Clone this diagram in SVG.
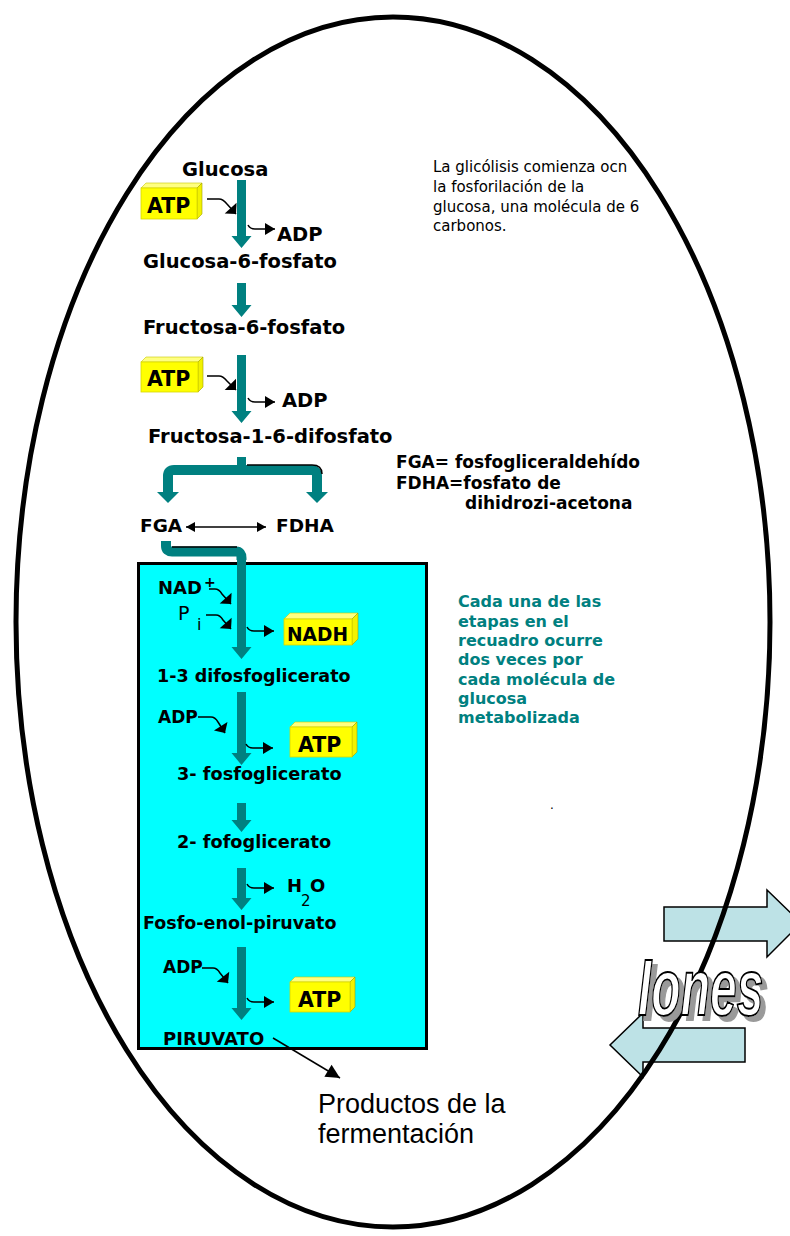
<svg xmlns="http://www.w3.org/2000/svg" width="790" height="1236" viewBox="0 0 790 1236">
  <style>
    .lbl { font-family: "DejaVu Sans", "Liberation Sans", sans-serif; font-weight: bold; fill: #000; }
    .reg { font-family: "DejaVu Sans", "Liberation Sans", sans-serif; fill: #000; }
    .note { font-family: "DejaVu Sans", "Liberation Sans", sans-serif; font-weight: bold; fill: #008080; font-size: 16px; }
    .shaft { fill: #008080; }
    .pipe { fill: none; stroke: #008080; stroke-width: 10; }
    .hook { fill: none; stroke: #000; stroke-width: 1.5; }
    .edge { fill: none; stroke: #000; stroke-width: 1.5; }
    .front { fill: #ffff00; stroke: #d8d800; stroke-width: 0.8; }
    .top { fill: #ffff80; stroke: #c8c800; stroke-width: 0.6; }
    .side { fill: #f2f200; stroke: #a0a000; stroke-width: 0.6; }
    .ion { fill: #bde2e6; stroke: #000; stroke-width: 1.5; }
  </style>
  <defs>
    <!-- right-angled head for the incoming co-substrate hooks -->
    <marker id="hin" viewBox="-9 -9 10 18" refX="0" refY="0" markerWidth="10" markerHeight="18" markerUnits="userSpaceOnUse" orient="auto">
      <path d="M0,0 L-8,-8 L-8,8 Z" fill="#000"/>
    </marker>
    <!-- head for the outgoing product hooks -->
    <marker id="hout" viewBox="-11 -7 12 14" refX="0" refY="0" markerWidth="12" markerHeight="14" markerUnits="userSpaceOnUse" orient="auto">
      <path d="M0,0 L-10,-6 L-10,6 Z" fill="#000"/>
    </marker>
    <marker id="dbl" viewBox="-10 -6 11 12" refX="0" refY="0" markerWidth="11" markerHeight="12" markerUnits="userSpaceOnUse" orient="auto-start-reverse">
      <path d="M0,0 L-9,-5 L-9,5 Z" fill="#000"/>
    </marker>
    <marker id="big" viewBox="-15 -8 16 16" refX="0" refY="0" markerWidth="16" markerHeight="16" markerUnits="userSpaceOnUse" orient="auto">
      <path d="M0,0 L-14,-7 L-14,7 Z" fill="#000"/>
    </marker>
    <!-- grey drop shadow for the outlined word -->
    <filter id="sombra" x="-10%" y="-10%" width="130%" height="130%">
      <feFlood flood-color="#9a9a9a"/>
      <feComposite in2="SourceAlpha" operator="in"/>
      <feOffset dx="5" dy="5" result="s"/>
      <feMerge><feMergeNode in="s"/><feMergeNode in="SourceGraphic"/></feMerge>
    </filter>
  </defs>

  <rect x="0" y="0" width="790" height="1236" fill="#fff"/>

  <!-- recuadro: steps that occur twice per glucose -->
  <rect id="recuadro" x="138.5" y="563.5" width="288" height="485" fill="#00ffff" stroke="#000" stroke-width="3"/>

  <!-- connectors: teal pathway arrows and black hooks -->
  <g id="connectors">
    <polygon class="shaft" points="237,180 246,180 246,236 251.5,236 241.5,248 231.5,236 237,236"/>
    <polygon class="shaft" points="237,283 246,283 246,305 251.5,305 241.5,317 231.5,305 237,305"/>
    <polygon class="shaft" points="237,355 246,355 246,411 251.5,411 241.5,423 231.5,411 237,411"/>

    <!-- split into the two trioses -->
    <rect class="shaft" x="237" y="457" width="9" height="10"/>
    <path class="pipe" d="M168,494 V476 Q168,470 174,470 H311 Q317,470 317,476 V494"/>
    <polygon class="shaft" points="157,492 179,492 168,503"/>
    <polygon class="shaft" points="306,492 328,492 317,503"/>
    <path class="edge" d="M247,465 H312 Q322,465 322,474"/>

    <path class="edge" d="M186,527 H266" marker-start="url(#dbl)" marker-end="url(#dbl)"/>

    <!-- FGA into the recuadro -->
    <path class="pipe" d="M166,541 V546 Q166,551.5 172,551.5 H236 Q241.5,551.5 241.5,558 V560"/>
    <path class="edge" d="M172,547 H237"/>
    <polygon class="shaft" points="237,556 246,556 246,647 251.5,647 241.5,659 231.5,647 237,647"/>
    <polygon class="shaft" points="237,692 246,692 246,753 251.5,753 241.5,765 231.5,753 237,753"/>
    <polygon class="shaft" points="237,803 246,803 246,820 251.5,820 241.5,832 231.5,820 237,820"/>
    <polygon class="shaft" points="237,868 246,868 246,898 251.5,898 241.5,910 231.5,898 237,898"/>
    <polygon class="shaft" points="237,947 246,947 246,1008 251.5,1008 241.5,1020 231.5,1008 237,1008"/>

    <!-- incoming hooks -->
    <path class="hook" d="M207,199 H219 Q223,199 227,204 L236,214" marker-end="url(#hin)"/>
    <path class="hook" d="M207,376 H219 Q223,376 227,381 L236,390" marker-end="url(#hin)"/>
    <path class="hook" d="M209,589 H215 Q219,589 222,594 L231,604" marker-end="url(#hin)"/>
    <path class="hook" d="M206,615 H216 Q220,615 223,620 L231,629" marker-end="url(#hin)"/>
    <path class="hook" d="M198,717 H211 Q215,717 218,722 L225,733" marker-end="url(#hin)"/>
    <path class="hook" d="M202,968 H213 Q217,968 220,973 L228,983" marker-end="url(#hin)"/>

    <!-- outgoing hooks -->
    <path class="hook" d="M248,225 Q250,229 255,229 H275" marker-end="url(#hout)"/>
    <path class="hook" d="M248,398 Q250,402 255,402 H275" marker-end="url(#hout)"/>
    <path class="hook" d="M247,627 Q249,631 254,631 H274" marker-end="url(#hout)"/>
    <path class="hook" d="M246,744 Q248,748 253,748 H273" marker-end="url(#hout)"/>
    <path class="hook" d="M247,884 Q249,888 254,888 H274" marker-end="url(#hout)"/>
    <path class="hook" d="M247,998 Q249,1002 254,1002 H274" marker-end="url(#hout)"/>

    <path class="edge" d="M273,1038 L340,1078" marker-end="url(#big)"/>
  </g>

  <!-- pathway intermediates -->
  <g id="glucosa"><text class="lbl" x="182" y="176" font-size="19.5">Glucosa</text></g>
  <g id="atp-1">
    <polygon class="top" points="141,188 146,183 202,183 197,188"/>
    <polygon class="side" points="197,188 202,183 202,214 197,219"/>
    <rect class="front" x="141" y="188" width="56" height="31"/>
    <text class="lbl" x="147" y="213" font-size="20.5">ATP</text>
  </g>
  <g id="adp-1"><text class="lbl" x="277" y="241" font-size="19.5">ADP</text></g>
  <g id="glucosa-6-fosfato"><text class="lbl" x="143" y="268" font-size="19.5">Glucosa-6-fosfato</text></g>
  <g id="fructosa-6-fosfato"><text class="lbl" x="143" y="334" font-size="19.5">Fructosa-6-fosfato</text></g>
  <g id="atp-2">
    <polygon class="top" points="141,362 146,357 203,357 198,362"/>
    <polygon class="side" points="198,362 203,357 203,387 198,392"/>
    <rect class="front" x="141" y="362" width="57" height="30"/>
    <text class="lbl" x="147" y="386" font-size="20.5">ATP</text>
  </g>
  <g id="adp-2"><text class="lbl" x="282" y="407" font-size="19.5">ADP</text></g>
  <g id="fructosa-1-6-difosfato"><text class="lbl" x="148" y="443" font-size="19.5">Fructosa-1-6-difosfato</text></g>
  <g id="fga"><text class="lbl" x="140" y="532" font-size="18.5">FGA</text></g>
  <g id="fdha"><text class="lbl" x="276" y="532" font-size="18.5">FDHA</text></g>

  <g id="nad">
    <text class="lbl" x="158" y="594" font-size="18">NAD</text>
    <text class="lbl" x="204" y="587" font-size="14">+</text>
  </g>
  <g id="pi">
    <text class="reg" x="178" y="620" font-size="19">P</text>
    <text class="reg" x="197" y="630" font-size="16">i</text>
  </g>
  <g id="nadh">
    <polygon class="top" points="284,619 290,613 358,613 352,619"/>
    <polygon class="side" points="352,619 358,613 358,639 352,645"/>
    <rect class="front" x="284" y="619" width="68" height="26"/>
    <text class="lbl" x="287" y="641" font-size="18.6">NADH</text>
  </g>
  <g id="difosfoglicerato"><text class="lbl" x="157" y="682" font-size="17.5">1-3 difosfoglicerato</text></g>
  <g id="adp-3"><text class="lbl" x="158" y="723" font-size="17">ADP</text></g>
  <g id="atp-3">
    <polygon class="top" points="290,727 295,722 357,722 352,727"/>
    <polygon class="side" points="352,727 357,722 357,752 352,757"/>
    <rect class="front" x="290" y="727" width="62" height="30"/>
    <text class="lbl" x="298" y="752" font-size="20.5">ATP</text>
  </g>
  <g id="fosfoglicerato-3"><text class="lbl" x="177" y="780" font-size="17.7">3- fosfoglicerato</text></g>
  <g id="fofoglicerato-2"><text class="lbl" x="177" y="848" font-size="17.7">2- fofoglicerato</text></g>
  <g id="h2o">
    <text class="lbl" x="287" y="892" font-size="18">H</text>
    <text class="reg" x="301" y="906" font-size="15">2</text>
    <text class="lbl" x="310" y="892" font-size="18">O</text>
  </g>
  <g id="fosfo-enol-piruvato"><text class="lbl" x="143" y="929" font-size="17.5">Fosfo-enol-piruvato</text></g>
  <g id="adp-4"><text class="lbl" x="163" y="973" font-size="17">ADP</text></g>
  <g id="atp-4">
    <polygon class="top" points="290,982 295,977 355,977 350,982"/>
    <polygon class="side" points="350,982 355,977 355,1007 350,1012"/>
    <rect class="front" x="290" y="982" width="60" height="30"/>
    <text class="lbl" x="298" y="1007" font-size="20.5">ATP</text>
  </g>
  <g id="piruvato"><text class="lbl" x="163" y="1045" font-size="18">PIRUVATO</text></g>
  <g id="productos">
    <text font-family="'Liberation Sans', Arial, sans-serif" font-size="27" x="318" y="1113">Productos de la</text>
    <text font-family="'Liberation Sans', Arial, sans-serif" font-size="27" x="318" y="1143">fermentación</text>
  </g>

  <!-- side notes -->
  <g id="nota-inicio" class="reg" font-size="15">
    <text x="433" y="172">La glicólisis comienza ocn</text>
    <text x="433" y="192">la fosforilación de la</text>
    <text x="433" y="212">glucosa, una molécula de 6</text>
    <text x="433" y="231">carbonos.</text>
  </g>
  <g id="nota-abreviaturas" class="lbl" font-size="17">
    <text x="396" y="468" textLength="244">FGA= fosfogliceraldehído</text>
    <text x="396" y="489">FDHA=fosfato de</text>
    <text x="465" y="509">dihidrozi-acetona</text>
  </g>
  <g id="nota-recuadro" class="note">
    <text x="458" y="607">Cada una de las</text>
    <text x="458" y="627">etapas en el</text>
    <text x="458" y="646">recuadro ocurre</text>
    <text x="458" y="665">dos veces por</text>
    <text x="458" y="685">cada molécula de</text>
    <text x="458" y="704">glucosa</text>
    <text x="458" y="723">metabolizada</text>
  </g>
  <text class="reg" x="550" y="809" font-size="12">.</text>

  <!-- ion exchange across the membrane -->
  <g id="iones-salida">
    <polygon class="ion" points="664,907 767,907 767,890 801,923 767,957 767,941 664,941"/>
  </g>
  <g id="iones-entrada">
    <polygon class="ion" points="745,1028 643,1028 643,1013 610,1045 643,1077 643,1062 745,1062"/>
  </g>

  <!-- cell membrane -->
  <ellipse id="membrana" cx="393" cy="622" rx="377" ry="605" fill="none" stroke="#000" stroke-width="5"/>

  <g id="iones" filter="url(#sombra)">
    <text transform="translate(638,1015) scale(0.6,1)" font-family="'Liberation Sans', Arial, sans-serif" font-weight="bold" font-style="italic" font-size="80" fill="#fff" stroke="#000" stroke-width="2">Iones</text>
  </g>
</svg>
